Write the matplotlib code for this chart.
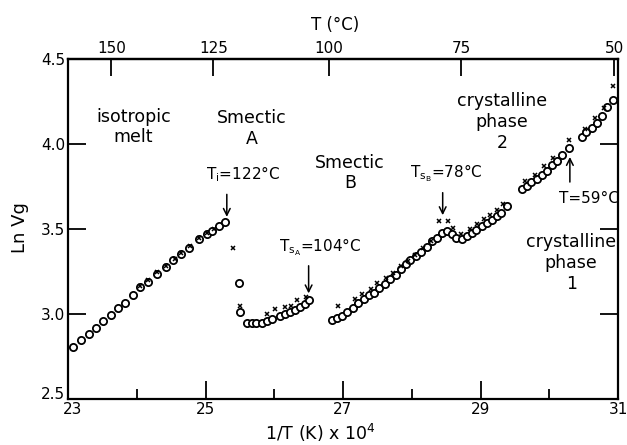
"""
Ln Vg against 1/T for the liquid crystal column, with the phase regions marked
"""
import numpy as np
import matplotlib
matplotlib.use("Agg")
import matplotlib.pyplot as plt
from matplotlib.ticker import FixedLocator
from matplotlib.transforms import ScaledTranslation

# open circles
circ_x = [23.08, 23.19, 23.31, 23.41, 23.51, 23.63, 23.73, 23.83, 23.94, 24.05,
          24.17, 24.30, 24.43, 24.53, 24.65, 24.76, 24.90, 25.02, 25.10, 25.20, 25.28,
          25.48, 25.50, 25.60, 25.67, 25.74, 25.82, 25.89, 25.96, 26.08, 26.16, 26.23,
          26.30, 26.37, 26.45, 26.50,
          26.84, 26.91, 26.98, 27.06, 27.14, 27.22, 27.30, 27.38, 27.45, 27.53, 27.61,
          27.69, 27.77, 27.84, 27.92, 27.98, 28.06, 28.14, 28.22, 28.29, 28.36, 28.44,
          28.51, 28.58, 28.65, 28.73, 28.80, 28.87, 28.94, 29.02, 29.09, 29.16, 29.24,
          29.30, 29.38,
          29.60, 29.67, 29.74, 29.82, 29.89, 29.96, 30.04, 30.11, 30.18, 30.28,
          30.47, 30.54, 30.62, 30.69, 30.76, 30.84, 30.92]
circ_y = [2.805, 2.845, 2.88, 2.92, 2.957, 2.996, 3.034, 3.065, 3.109, 3.159,
          3.19, 3.236, 3.274, 3.317, 3.351, 3.391, 3.44, 3.47, 3.49, 3.52, 3.54,
          3.18, 3.014, 2.946, 2.946, 2.946, 2.946, 2.96, 2.97, 2.99, 3.0, 3.014,
          3.024, 3.04, 3.06, 3.08,
          2.964, 2.974, 2.99, 3.014, 3.034, 3.064, 3.089, 3.109, 3.125, 3.153, 3.179,
          3.204, 3.232, 3.262, 3.292, 3.317, 3.343, 3.367, 3.397, 3.427, 3.45, 3.476,
          3.486, 3.47, 3.45, 3.44, 3.457, 3.476, 3.496, 3.516, 3.536, 3.555, 3.575,
          3.595, 3.635,
          3.734, 3.754, 3.774, 3.794, 3.82, 3.844, 3.874, 3.9, 3.934, 3.974,
          4.042, 4.071, 4.097, 4.121, 4.165, 4.22, 4.26]

# crosses (second run)
cross_x = [24.05, 24.17, 24.30, 24.43, 24.55, 24.65, 24.78, 24.90, 25.02, 25.12,
           25.40, 25.50, 25.89, 26.01, 26.16, 26.25, 26.33, 26.46,
           26.93, 27.18, 27.28, 27.40, 27.50, 27.62, 27.72, 27.85, 27.95, 28.05,
           28.17, 28.28, 28.39, 28.53, 28.60, 28.72, 28.84, 28.95, 29.05, 29.14,
           29.24, 29.33,
           29.65, 29.79, 29.92, 30.05, 30.29, 30.52, 30.66, 30.80, 30.93]
cross_y = [3.165, 3.20, 3.245, 3.28, 3.325, 3.36, 3.40, 3.445, 3.475, 3.50,
           3.391, 3.046, 3.0, 3.03, 3.04, 3.05, 3.08, 3.10,
           3.049, 3.09, 3.12, 3.15, 3.18, 3.21, 3.24, 3.28, 3.31, 3.35,
           3.39, 3.43, 3.546, 3.546, 3.506, 3.47, 3.50, 3.53, 3.56, 3.58,
           3.61, 3.65,
           3.784, 3.82, 3.87, 3.92, 4.022, 4.09, 4.15, 4.21, 4.343]

top_ticks_c = [150, 125, 100, 75, 50]


def inv_to_c(x):
    x = np.asarray(x, dtype=float)
    return 1e4 / x - 273.15


def c_to_inv(t):
    t = np.asarray(t, dtype=float)
    return 1e4 / (t + 273.15)


fig = plt.figure(figsize=(6.27, 4.45), dpi=100)
ax = fig.add_axes([68 / 627, 1 - 399 / 445, 550 / 627, 340 / 445])

ax.plot(circ_x, circ_y, "o", mfc="white", mec="black", ms=5.2, mew=1.3, ls="none")
ax.plot(cross_x, cross_y, "x", color="black", ms=3.4, mew=1.1, ls="none")

ax.set_xlim(23, 31)
ax.set_ylim(2.5, 4.5)
ax.set_xticks([23, 25, 27, 29, 31])
ax.xaxis.set_minor_locator(FixedLocator([24, 26, 28, 30]))
ax.set_yticks([2.5, 3.0, 3.5, 4.0, 4.5])
ax.tick_params(axis="x", which="major", direction="in", length=13, width=1.3,
               labelsize=11, top=False, pad=2)
ax.tick_params(axis="x", which="minor", direction="in", length=7, width=1.3, top=False)
ax.tick_params(axis="y", direction="in", length=13, width=1.3, labelsize=11,
               right=True, pad=2)
for s in ax.spines.values():
    s.set_linewidth(1.6)

# corner labels sit tight in the original, nudge them apart a bit
lbl_25 = ax.yaxis.get_major_ticks()[0].label1
lbl_25.set_transform(lbl_25.get_transform() + ScaledTranslation(0, 4 / 72, fig.dpi_scale_trans))
lbl_23 = ax.xaxis.get_major_ticks()[0].label1
lbl_23.set_transform(lbl_23.get_transform() + ScaledTranslation(3 / 72, 0, fig.dpi_scale_trans))

# top axis in deg C
sec = ax.secondary_xaxis("top", functions=(inv_to_c, c_to_inv))
sec.set_xticks(top_ticks_c)
sec.tick_params(direction="in", length=12, width=1.3, labelsize=11, pad=2)
sec.spines["top"].set_linewidth(1.6)
fig.text(335 / 627, 1 - 25 / 445, "T (°C)", ha="center", va="center", fontsize=12)

# axis titles
fig.text(320 / 627, 1 - 433 / 445, r"1/T (K) x 10$^4$", ha="center", va="center",
         fontsize=12.5)
fig.text(20 / 627, 1 - 228 / 445, "Ln Vg", ha="center", va="center", fontsize=13,
         rotation=90)

# phase labels
txt = dict(ha="center", va="center", fontsize=12.5, linespacing=1.2)
ax.text(23.95, 4.10, "isotropic\nmelt", **txt)
ax.text(25.68, 4.09, "Smectic\nA", **txt)
ax.text(27.10, 3.83, "Smectic\nB", **txt)
ax.text(29.31, 4.13, "crystalline\nphase\n2", **txt)
ax.text(30.32, 3.30, "crystalline\nphase\n1", **txt)

# transition arrows
arr = dict(arrowstyle="->", lw=1.1, color="black", mutation_scale=12)
lab = dict(ha="center", va="center", fontsize=11)
ax.annotate("", xy=(25.31, 3.555), xytext=(25.31, 3.72), arrowprops=arr)
ax.text(25.55, 3.82, r"T$_\mathrm{i}$=122°C", **lab)
ax.annotate("", xy=(26.50, 3.105), xytext=(26.50, 3.30), arrowprops=arr)
ax.text(26.67, 3.39, r"T$_\mathrm{s_A}$=104°C", **lab)
ax.annotate("", xy=(28.45, 3.565), xytext=(28.45, 3.73), arrowprops=arr)
ax.text(28.50, 3.83, r"T$_\mathrm{s_B}$=78°C", **lab)
ax.annotate("", xy=(30.30, 3.94), xytext=(30.30, 3.76), arrowprops=arr)
ax.text(30.58, 3.68, "T=59°C", **lab)

fig.savefig("out.png", dpi=100)
